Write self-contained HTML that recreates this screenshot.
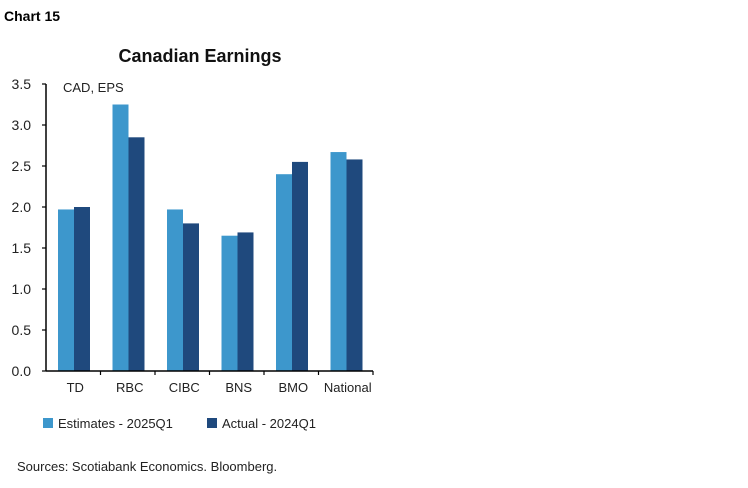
<!DOCTYPE html>
<html><head><meta charset="utf-8"><style>
body{margin:0;background:#fff;font-family:"Liberation Sans",sans-serif;}
svg text{font-family:"Liberation Sans",sans-serif;}
</style></head><body>
<svg width="748" height="483" id="c">
<text x="4" y="21" font-size="14" font-weight="bold" fill="#000">Chart 15</text>
<text x="200" y="62" font-size="18" font-weight="bold" text-anchor="middle" fill="#111">Canadian Earnings</text>
<text x="63" y="92" font-size="13" fill="#222">CAD, EPS</text>
<g id="plot"></g>
<rect x="43" y="418" width="10" height="10" fill="#3D97CC"/>
<text x="58" y="428" font-size="13" fill="#222">Estimates - 2025Q1</text>
<rect x="207" y="418" width="10" height="10" fill="#1F497D"/>
<text x="222" y="428" font-size="13" fill="#222">Actual - 2024Q1</text>
<text x="17" y="471" font-size="13" fill="#222">Sources: Scotiabank Economics. Bloomberg.</text>
</svg>
<script>
const categories=["TD","RBC","CIBC","BNS","BMO","National"];
const estimates=[1.97,3.25,1.97,1.65,2.40,2.67];
const actual=[2.00,2.85,1.80,1.69,2.55,2.58];
const yTicks=["0.0","0.5","1.0","1.5","2.0","2.5","3.0","3.5"];
const NS="http://www.w3.org/2000/svg";
const g=document.getElementById('plot');
const x0=46,x1=373,y0=371,y1=84,yMax=3.5;
const y=v=>y0-(v/yMax)*(y0-y1);
const bw=(x1-x0)/categories.length;
function mk(t,a){const e=document.createElementNS(NS,t);for(const k in a)e.setAttribute(k,a[k]);g.appendChild(e);return e;}
categories.forEach((c,i)=>{
 const cx=x0+bw*i;
 let r=mk('rect',{x:cx+12,y:y(estimates[i]),width:16,height:y0-y(estimates[i]),fill:'#3D97CC'});
 
 
 r=mk('rect',{x:cx+28,y:y(actual[i]),width:16,height:y0-y(actual[i]),fill:'#1F497D'});
 
 
 const t=mk('text',{x:cx+bw/2+2,y:392,'font-size':13,'text-anchor':'middle',fill:'#222'});
 t.textContent=c;
 
 
 const tk=mk('line',{x1:cx+bw,x2:cx+bw,y1:y0,y2:y0+4,stroke:'#000','stroke-width':1.2});
 
 
});
yTicks.forEach((l,i)=>{
 const v=parseFloat(l);
 const tk=mk('line',{x1:x0-4,x2:x0,y1:y(v),y2:y(v),stroke:'#000','stroke-width':1.2});
 
 
 const t=mk('text',{x:31,y:y(v)+5,'font-size':14,'text-anchor':'end',fill:'#222'});
 t.textContent=l;
 
 
});
let a=mk('line',{x1:x0,x2:x0,y1:y1,y2:y0,stroke:'#000','stroke-width':1.5});


a=mk('line',{x1:x0,x2:x1,y1:y0,y2:y0,stroke:'#000','stroke-width':1.5});


</script>
</body></html>
